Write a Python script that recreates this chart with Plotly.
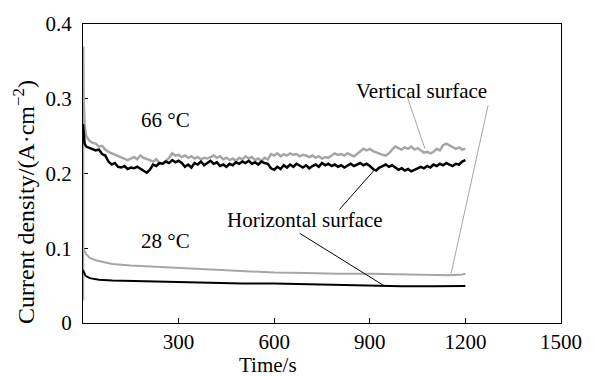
import plotly.graph_objects as go

# ---- data ----
t66 = [0, 0.5, 2, 5,
       10, 20, 30, 40, 50, 60, 70, 80, 90, 100,
       110, 120, 130, 140, 150, 160, 170, 180, 190, 200,
       210, 220, 230, 240, 250, 260, 270, 280, 290, 300,
       310, 320, 330, 340, 350, 360, 370, 380, 390, 400,
       410, 420, 430, 440, 450, 460, 470, 480, 490, 500,
       510, 520, 530, 540, 550, 560, 570, 580, 590, 600,
       610, 620, 630, 640, 650, 660, 670, 680, 690, 700,
       710, 720, 730, 740, 750, 760, 770, 780, 790, 800,
       810, 820, 830, 840, 850, 860, 870, 880, 890, 900,
       910, 920, 930, 940, 950, 960, 970, 980, 990, 1000,
       1010, 1020, 1030, 1040, 1050, 1060, 1070, 1080, 1090, 1100,
       1110, 1120, 1130, 1140, 1150, 1160, 1170, 1180, 1190, 1200]

vert66 = [0.03, 0.37, 0.30, 0.265,
          0.250, 0.244, 0.241, 0.240, 0.236, 0.237, 0.232, 0.229, 0.227, 0.226,
          0.223, 0.221, 0.219, 0.218, 0.220, 0.222, 0.219, 0.224, 0.221, 0.220,
          0.218, 0.216, 0.219, 0.214, 0.213, 0.217, 0.221, 0.227, 0.224, 0.225,
          0.222, 0.224, 0.221, 0.223, 0.220, 0.222, 0.219, 0.221, 0.220, 0.222,
          0.224, 0.221, 0.223, 0.219, 0.221, 0.218, 0.220, 0.217, 0.221, 0.219,
          0.223, 0.220, 0.222, 0.218, 0.220, 0.217, 0.221, 0.219, 0.226, 0.224,
          0.227, 0.223, 0.226, 0.224, 0.227, 0.225, 0.226, 0.223, 0.225, 0.224,
          0.222, 0.224, 0.221, 0.223, 0.220, 0.222, 0.221, 0.224, 0.227, 0.225,
          0.226, 0.224, 0.227, 0.225, 0.223, 0.226, 0.229, 0.233, 0.231, 0.233,
          0.230, 0.228, 0.226, 0.225, 0.224, 0.227, 0.232, 0.236, 0.234, 0.232,
          0.235, 0.233, 0.236, 0.232, 0.234, 0.231, 0.228, 0.229, 0.227, 0.229,
          0.233, 0.231, 0.238, 0.240, 0.238, 0.236, 0.233, 0.235, 0.232, 0.233]

horiz66 = [0.266, 0.262, 0.250, 0.240,
           0.236, 0.234, 0.233, 0.231, 0.232, 0.226, 0.224, 0.216, 0.212, 0.214,
           0.209, 0.208, 0.210, 0.206, 0.208, 0.207, 0.209, 0.206, 0.203, 0.201,
           0.205, 0.212, 0.210, 0.214, 0.213, 0.216, 0.214, 0.218, 0.215, 0.217,
           0.214, 0.209, 0.212, 0.208, 0.214, 0.212, 0.216, 0.211, 0.214, 0.217,
           0.213, 0.215, 0.210, 0.212, 0.209, 0.213, 0.211, 0.215, 0.213, 0.216,
           0.214, 0.217, 0.213, 0.215, 0.212, 0.216, 0.214, 0.213, 0.207, 0.205,
           0.209, 0.206, 0.211, 0.208, 0.212, 0.209, 0.213, 0.210, 0.208, 0.211,
           0.207, 0.210, 0.212, 0.209, 0.214, 0.211, 0.213, 0.210, 0.212, 0.209,
           0.211, 0.208, 0.210, 0.213, 0.210, 0.212, 0.214, 0.211, 0.213, 0.210,
           0.206, 0.204, 0.208, 0.210, 0.212, 0.209, 0.211, 0.208, 0.205, 0.207,
           0.204, 0.206, 0.203, 0.205, 0.207, 0.209, 0.207, 0.210, 0.208, 0.212,
           0.210, 0.213, 0.211, 0.214, 0.212, 0.210, 0.213, 0.212, 0.216, 0.218]

t28v = [0, 3, 10, 21, 40, 60, 92, 150, 200, 296, 400, 500, 600, 700, 800, 900, 1000, 1100, 1150, 1190, 1200]
vert28 = [0.100, 0.097, 0.092, 0.087, 0.084, 0.082, 0.079, 0.077, 0.076, 0.074, 0.072, 0.070,
          0.0675, 0.067, 0.066, 0.066, 0.065, 0.0645, 0.064, 0.065, 0.066]

t28h = [0, 3, 8, 21, 50, 92, 200, 296, 400, 500, 600, 700, 800, 900, 950, 1000, 1100, 1200]
horiz28 = [0.071, 0.068, 0.063, 0.060, 0.058, 0.057, 0.056, 0.0547, 0.054, 0.053, 0.053,
           0.052, 0.051, 0.050, 0.049, 0.049, 0.049, 0.0495]

x_ticks = [300, 600, 900, 1200, 1500]
y_ticks = [0, 0.1, 0.2, 0.3, 0.4]
y_ticktext = ["0", "0.1", "0.2", "0.3", "0.4"]

GRAY = "#a6a6a6"
FONT = "Liberation Serif"
TICKFONT = dict(family=FONT, size=21, color="black")

fig = go.Figure()
fig.add_trace(go.Scatter(x=t66, y=vert66, mode="lines", line=dict(color=GRAY, width=2.5), showlegend=False))
fig.add_trace(go.Scatter(x=t66, y=horiz66, mode="lines", line=dict(color="black", width=2.5), showlegend=False))
fig.add_trace(go.Scatter(x=t28v, y=vert28, mode="lines", line=dict(color=GRAY, width=2), showlegend=False))
fig.add_trace(go.Scatter(x=t28h, y=horiz28, mode="lines", line=dict(color="black", width=2), showlegend=False))

# leader lines
leaders = [
    (1018, 0.302, 1073, 0.233, GRAY),
    (1271, 0.291, 1155, 0.066, GRAY),
    (805, 0.152, 915, 0.205, "black"),
    (680, 0.120, 948, 0.049, "black"),
]
for x0, y0, x1, y1, c in leaders:
    fig.add_shape(type="line", xref="x", yref="y", x0=x0, y0=y0, x1=x1, y1=y1,
                  line=dict(color=c, width=1))

annots = [
    ("66 °C", 259, 0.272),
    ("28 °C", 259, 0.110),
    ("Vertical surface", 1061, 0.310),
    ("Horizontal surface", 698, 0.138),
]
for txt, x, y in annots:
    fig.add_annotation(text=txt, x=x, y=y, xref="x", yref="y", showarrow=False,
                       font=dict(family=FONT, size=21, color="black"))

# axis titles as annotations
fig.add_annotation(text="Current density/(A·cm<sup>−2</sup>)", xref="paper", yref="paper",
                   x=-0.124, y=0.404, textangle=-90, showarrow=False,
                   xanchor="center", yanchor="middle",
                   font=dict(family=FONT, size=24, color="black"))
fig.add_annotation(text="Time/s", xref="paper", yref="paper",
                   x=0.388, y=-0.142, showarrow=False, xanchor="center", yanchor="middle",
                   font=dict(family=FONT, size=21, color="black"))

fig.update_layout(
    width=594, height=376,
    margin=dict(l=83, r=19, t=21, b=53),
    paper_bgcolor="white", plot_bgcolor="white",
    font=dict(family=FONT, size=21, color="black"),
    xaxis=dict(range=[0, 1500], tickvals=x_ticks, tickfont=TICKFONT,
               showline=True, linecolor="black", linewidth=1, mirror=True,
               ticks="inside", ticklen=5, tickcolor="black", ticklabeloverflow="allow",
               showgrid=False, zeroline=False, layer="below traces"),
    yaxis=dict(range=[0, 0.4], tickvals=y_ticks, ticktext=y_ticktext, tickfont=TICKFONT,
               showline=True, linecolor="black", linewidth=1, mirror=True,
               ticks="inside", ticklen=5, tickcolor="black", ticklabelstandoff=6,
               showgrid=False, zeroline=False, layer="below traces"),
)

fig.write_html("out.html", config={"displayModeBar": False},
               post_script="document.body.style.margin='0px';")
